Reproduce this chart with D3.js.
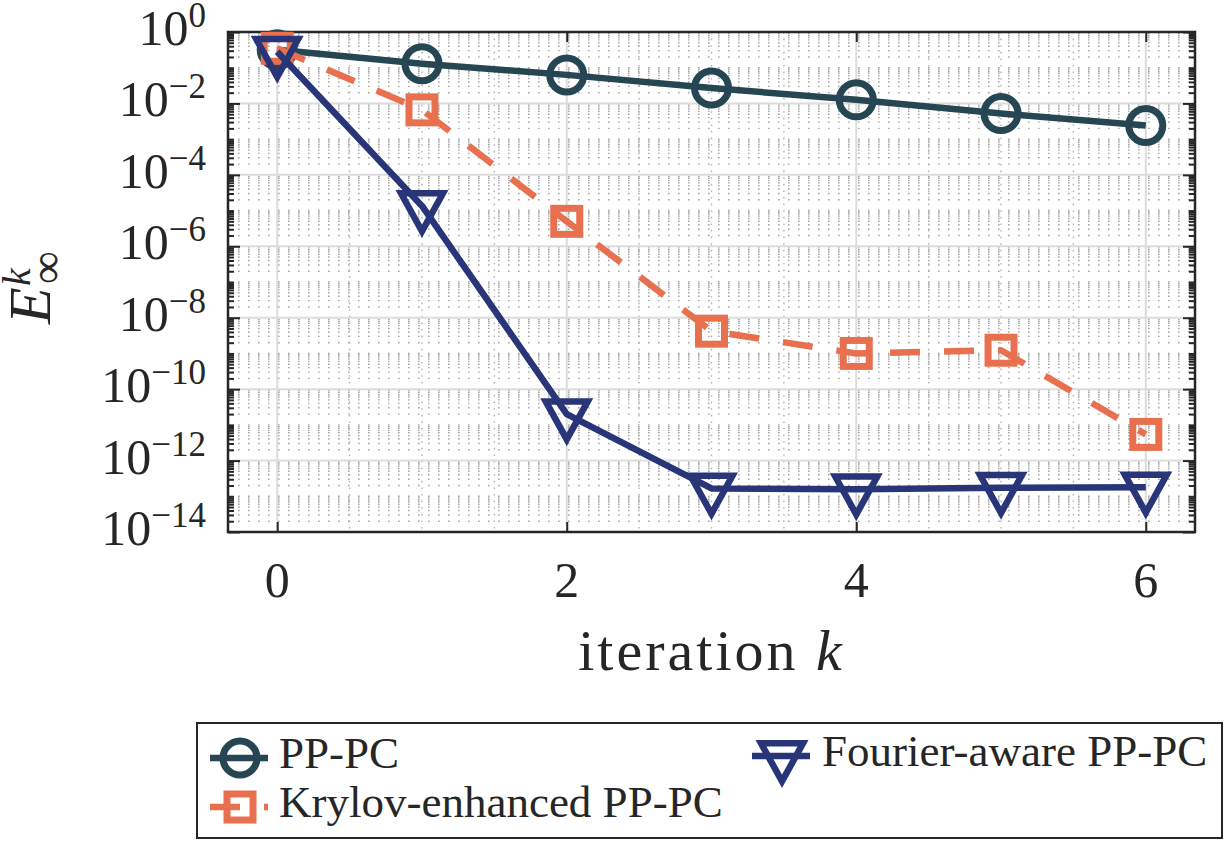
<!DOCTYPE html>
<html>
<head>
<meta charset="utf-8">
<script src="https://cdn.jsdelivr.net/npm/d3@7"></script>
<style>
  body { margin: 0; background: #fff; }
  text { font-family: "Liberation Serif", serif; fill: #262626; }
</style>
</head>
<body>
<svg id="chart" width="1227" height="841"></svg>
<script>
// Data
var iterations = [0, 1, 2, 3, 4, 5, 6];
var ppPC = [0.32, 0.13, 0.063, 0.027, 0.0126, 0.0052, 0.0024];
var krylovPC = [0.35, 6.6e-3, 5.0e-6, 4.2e-9, 1.0e-9, 1.23e-9, 5.4e-12];
var fourierPC = [0.28, 1.35e-5, 2.0e-11, 1.66e-13, 1.58e-13, 1.74e-13, 1.78e-13];
var seriesNames = ["PP-PC", "Krylov-enhanced PP-PC", "Fourier-aware PP-PC"];
var xTickValues = [0, 2, 4, 6];
var yTickExponents = [0, -2, -4, -6, -8, -10, -12, -14];

var svg = d3.select("#chart");
var plot = { left: 228, right: 1195, top: 32, bottom: 532 };

var x = d3.scaleLinear().domain([-0.34, 6.34]).range([plot.left, plot.right]);
var y = d3.scaleLog().domain([1e-14, 1]).range([plot.bottom, plot.top]);

// minor positions
var yMajor = yTickExponents.map(e => Math.pow(10, e));
var yMinor = [];
d3.range(-14, 0).forEach(function(k) {
  for (var m = 1; m <= 9; m++) {
    if (m === 1 && k % 2 === 0) continue;
    yMinor.push(m * Math.pow(10, k));
  }
});
var xMinor = d3.range(0.5, 6, 0.5).filter(v => xTickValues.indexOf(v) < 0);

// Grid
// ==============================
var grid = svg.append("g");
grid.selectAll(".ymin").data(yMinor).enter().append("line")
  .attr("x1", plot.left).attr("x2", plot.right)
  .attr("y1", d => y(d)).attr("y2", d => y(d))
  .attr("stroke", "#a6a6a6").attr("stroke-width", 1.4)
  .attr("stroke-dasharray", "1.6,8.4");
grid.selectAll(".xmin").data(xMinor).enter().append("line")
  .attr("x1", d => x(d)).attr("x2", d => x(d))
  .attr("y1", plot.top).attr("y2", plot.bottom)
  .attr("stroke", "#b4b4b4").attr("stroke-width", 1.4)
  .attr("stroke-dasharray", "1.6,5");
grid.selectAll(".ymaj").data(yMajor).enter().append("line")
  .attr("x1", plot.left).attr("x2", plot.right)
  .attr("y1", d => y(d)).attr("y2", d => y(d))
  .attr("stroke", "#dcdcdc").attr("stroke-width", 2);
grid.selectAll(".xmaj").data(xTickValues).enter().append("line")
  .attr("x1", d => x(d)).attr("x2", d => x(d))
  .attr("y1", plot.top).attr("y2", plot.bottom)
  .attr("stroke", "#dcdcdc").attr("stroke-width", 2);

// Axes (inward ticks on all four sides)
// ==============================
function styleAxis(g) {
  g.select(".domain").remove();
  g.selectAll("line").attr("stroke", "#262626").attr("stroke-width", 2);
  g.selectAll("text").remove();
}
svg.append("g").attr("transform", `translate(0,${plot.bottom})`)
  .call(d3.axisBottom(x).tickValues(xTickValues).tickSize(-10)).call(styleAxis);
svg.append("g").attr("transform", `translate(0,${plot.top})`)
  .call(d3.axisTop(x).tickValues(xTickValues).tickSize(-10)).call(styleAxis);
svg.append("g").attr("transform", `translate(${plot.left},0)`)
  .call(d3.axisLeft(y).tickValues(yMajor).tickSize(-12)).call(styleAxis);
svg.append("g").attr("transform", `translate(${plot.left},0)`)
  .call(d3.axisLeft(y).tickValues(yMinor).tickSize(-6)).call(styleAxis);
svg.append("g").attr("transform", `translate(${plot.right},0)`)
  .call(d3.axisRight(y).tickValues(yMajor).tickSize(-12)).call(styleAxis);
svg.append("g").attr("transform", `translate(${plot.right},0)`)
  .call(d3.axisRight(y).tickValues(yMinor).tickSize(-6)).call(styleAxis);

// tick labels
svg.append("g").selectAll("text").data(xTickValues).enter().append("text")
  .attr("x", d => x(d)).attr("y", 597)
  .attr("text-anchor", "middle").attr("font-size", 50)
  .text(d => d);

var yLab = svg.append("g").selectAll("text").data(yTickExponents).enter().append("text")
  .attr("x", 206).attr("y", d => y(Math.pow(10, d)) + 13)
  .attr("text-anchor", "end").attr("font-size", 50);
yLab.append("tspan").text("10");
yLab.append("tspan").attr("font-size", 35).attr("dy", -18)
  .text(d => d === 0 ? "0" : "\u2212" + (-d));

// axis titles
var xt = svg.append("text").attr("x", (plot.left + plot.right) / 2).attr("y", 670)
  .attr("text-anchor", "middle").attr("font-size", 58).attr("letter-spacing", 3);
xt.append("tspan").text("iteration ");
xt.append("tspan").attr("font-style", "italic").text("k");

var yt = svg.append("g").attr("transform", "translate(50,282) rotate(-90)");
yt.append("text").attr("x", -42).attr("y", 0).attr("font-size", 60)
  .attr("font-style", "italic").text("E");
yt.append("text").attr("x", -4).attr("y", -20).attr("font-size", 40)
  .attr("font-style", "italic").text("k");
yt.append("text").attr("x", -2).attr("y", 12).attr("font-size", 46).text("\u221E");

// Box
svg.append("rect").attr("x", plot.left).attr("y", plot.top)
  .attr("width", plot.right - plot.left).attr("height", plot.bottom - plot.top)
  .attr("fill", "none").attr("stroke", "#262626").attr("stroke-width", 2.5);

// Series
// ==============================
var series = [
  { name: seriesNames[0], values: ppPC, color: "#264653", marker: "circle", dash: null },
  { name: seriesNames[1], values: krylovPC, color: "#e8704f", marker: "square", dash: "30,24" },
  { name: seriesNames[2], values: fourierPC, color: "#283679", marker: "triangle", dash: null }
];

function drawMarker(g, type, cx, cy, color) {
  if (type === "circle") {
    g.append("circle").attr("cx", cx).attr("cy", cy).attr("r", 17)
      .attr("fill", "none").attr("stroke", color).attr("stroke-width", 7);
  } else if (type === "square") {
    g.append("rect").attr("x", cx - 13).attr("y", cy - 13).attr("width", 26).attr("height", 26)
      .attr("fill", "none").attr("stroke", color).attr("stroke-width", 7);
  } else {
    var w = 42, h = 38;
    g.append("path")
      .attr("d", `M${cx - w / 2},${cy - h / 3}L${cx + w / 2},${cy - h / 3}L${cx},${cy + 2 * h / 3}Z`)
      .attr("fill", "none").attr("stroke", color).attr("stroke-width", 6.5);
  }
}

var line = d3.line().x((d, i) => x(iterations[i])).y(d => y(d));

series.forEach(function(s) {
  var g = svg.append("g");
  g.append("path").attr("d", line(s.values))
    .attr("fill", "none").attr("stroke", s.color).attr("stroke-width", 6.5)
    .attr("stroke-linejoin", "round")
    .attr("stroke-dasharray", s.dash);
  s.values.forEach(function(v, i) {
    drawMarker(g, s.marker, x(iterations[i]), y(v), s.color);
  });
});

// Legend
// ==============================
svg.append("rect").attr("x", 197).attr("y", 723).attr("width", 1025).attr("height", 115)
  .attr("fill", "#fff").attr("stroke", "#262626").attr("stroke-width", 2);

var legendPos = [
  { cx: 240, cy: 758, tx: 279 },
  { cx: 240, cy: 807, tx: 279 },
  { cx: 782, cy: 756, tx: 822 }
];
series.forEach(function(s, i) {
  var p = legendPos[i];
  var g = svg.append("g");
  g.append("line").attr("x1", p.cx - 30).attr("x2", p.cx + 28)
    .attr("y1", p.cy).attr("y2", p.cy)
    .attr("stroke", s.color).attr("stroke-width", 6.5)
    .attr("stroke-dasharray", s.dash);
  drawMarker(g, s.marker, p.cx, p.cy, s.color);
  g.append("text").attr("x", p.tx).attr("y", p.cy + 10)
    .attr("font-size", 45).text(s.name);
});
</script>
</body>
</html>
